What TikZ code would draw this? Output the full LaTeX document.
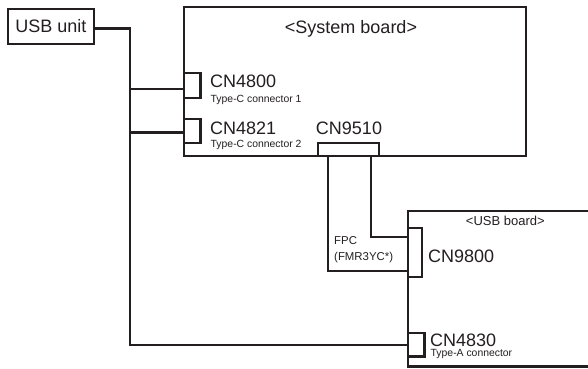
\documentclass[tikz,border=0pt]{standalone}
\usepackage{fontspec}
\setmainfont{Liberation Sans}
\definecolor{ink}{HTML}{231F20}
\begin{document}
\begin{tikzpicture}[x=1pt,y=-1pt,
  box/.style={draw=ink,line width=2.2pt,fill=white,inner sep=0pt,outer sep=0pt},
  wire/.style={draw=ink,line width=2.2pt,line join=miter},
  big/.style={text=ink,inner sep=0pt,font=\fontsize{18}{20}\selectfont},
  mid/.style={text=ink,inner sep=0pt,font=\fontsize{13}{15}\selectfont},
  fpc/.style={text=ink,inner sep=0pt,font=\fontsize{11.4}{13}\selectfont},
  small/.style={text=ink,inner sep=0pt,font=\fontsize{10.4}{12}\selectfont}]
\useasboundingbox (0,0) rectangle (588,368);
\clip (0,0) rectangle (588,368);
% boards
\node[box,minimum width=342pt,minimum height=149pt] (sb) at (355,81.5) {};
\node[box,minimum width=190pt,minimum height=155.5pt] (ub) at (503,288.75) {};
\node[box,minimum width=86pt,minimum height=35pt] (usb) at (51,26.5) {};
\node[big] (usbt) at (usb.center) {USB unit};
% connectors
\node[box,minimum width=16.5pt,minimum height=25pt] (cn4800) at (192.25,85.5) {};
\node[box,minimum width=16.5pt,minimum height=24pt] (cn4821) at (192.25,131) {};
\node[box,minimum width=61pt,minimum height=13pt] (cn9510) at (348.5,149.5) {};
\node[box,minimum width=14pt,minimum height=49pt] (cn9800) at (415,252.5) {};
\node[box,minimum width=16.5pt,minimum height=23.5pt] (cn4830) at (416.25,344.75) {};
% wiring
\coordinate (trunk) at (130,0);
\coordinate (p4800) at ([yshift=-3.5pt]cn4800.west);
\coordinate (p4821) at ([yshift=-1.5pt]cn4821.west);
\draw[wire] ([yshift=-2pt]usb.east) -| (trunk |- cn4830.west) -- (cn4830.west);
\draw[wire] (trunk |- p4800) -- (p4800);
\draw[wire] (trunk |- p4821) -- (p4821);
\draw[wire] ([xshift=-20.5pt]cn9510.south) |- ([yshift=-18.5pt]cn9800.west);
\draw[wire] ([xshift=22.5pt]cn9510.south) |- ([yshift=15.5pt]cn9800.west);
% labels
\node[big,anchor=base] (sbt) at (351,33) {<System board>};
\node[big,anchor=base west] (t4800) at (210,87.5) {CN4800};
\node[small,anchor=base west] (d4800) at (210.5,102) {Type-C connector 1};
\node[big,anchor=base west] (t4821) at (210,134.3) {CN4821};
\node[small,anchor=base west] (d4821) at (210.5,147) {Type-C connector 2};
\node[big,anchor=base] (t9510) at (349,134.3) {CN9510};
\node[mid,anchor=base] (ubt) at (505.3,225) {<USB board>};
\node[fpc,anchor=base west] (fpct) at (334,244) {FPC};
\node[fpc,anchor=base west] (fpcn) at (334,260.5) {(FMR3YC*)};
\node[big,anchor=base west] (t9800) at (428,262.7) {CN9800};
\node[big,anchor=base west] (t4830) at (430,346) {CN4830};
\node[small,anchor=base west] (d4830) at (430.5,356.5) {Type-A connector};
\end{tikzpicture}
\end{document}
